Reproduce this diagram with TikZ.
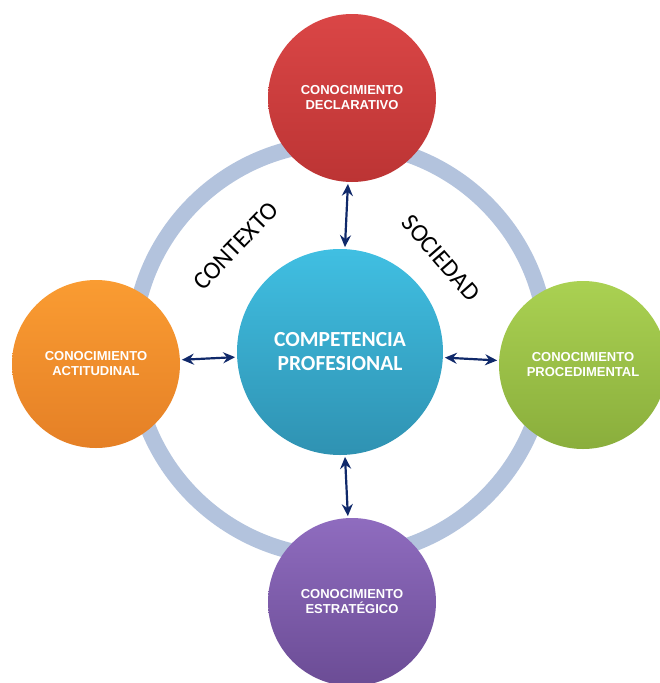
\documentclass[tikz,border=0pt]{standalone}
\usepackage{fontspec}
\setmainfont{Carlito}
\newfontfamily\arialfont{Liberation Sans}
\usepackage{tikz}
\usetikzlibrary{arrows.meta}

\definecolor{ringblue}{HTML}{B3C3DD}
\definecolor{navy}{HTML}{10296A}
\definecolor{redtop}{HTML}{DA4646}
\definecolor{redbot}{HTML}{BC3434}
\definecolor{bluetop}{HTML}{40BFE2}
\definecolor{bluebot}{HTML}{2F92B2}
\definecolor{orangetop}{HTML}{FA9C32}
\definecolor{orangebot}{HTML}{E58026}
\definecolor{greentop}{HTML}{AAD152}
\definecolor{greenbot}{HTML}{8AAE3C}
\definecolor{purpletop}{HTML}{8F6CBF}
\definecolor{purplebot}{HTML}{6B4C95}

\begin{document}
\begin{tikzpicture}[x=1pt,y=-1pt,
    ball/.style={circle,draw=none,inner sep=0pt,outer sep=1pt,minimum size=168pt,
      align=center,text=white,font=\arialfont\bfseries\fontsize{13}{15}\selectfont},
    link/.style={navy,line width=2.2pt,{Stealth[length=12pt,width=11pt,inset=4pt]}-{Stealth[length=12pt,width=11pt,inset=4pt]},shorten <=1pt,shorten >=1pt}]
            \useasboundingbox (0,0) rectangle (660,683);

            % The ring behind everything
            \draw[ringblue,line width=16pt] (340,350) circle (207pt);

            % Place the center node
            \node[ball,minimum size=206pt,top color=bluetop,bottom color=bluebot,
              font=\bfseries\fontsize{21.5}{24}\selectfont] (comp) at (340,352) {COMPETENCIA\\PROFESIONAL};

            % Place the other nodes
            \node[ball,top color=redtop,bottom color=redbot] (decl) at (352,98) {CONOCIMIENTO\\DECLARATIVO};
            \node[ball,top color=orangetop,bottom color=orangebot] (acti) at (96,364) {CONOCIMIENTO\\ACTITUDINAL};
            \node[ball,top color=greentop,bottom color=greenbot] (proc) at (583,365) {CONOCIMIENTO\\PROCEDIMENTAL};
            \node[ball,top color=purpletop,bottom color=purplebot] (estr) at (352,602) {CONOCIMIENTO\\ESTRAT\'EGICO};

            % The words on the ring
            \node[font=\fontsize{25}{28}\selectfont,rotate=46] (ctx) at (236,246) {CONTEXTO};
            \node[font=\fontsize{25}{28}\selectfont,rotate=-49] (soc) at (441,258) {SOCIEDAD};

            % The arrows!
            \draw[link] (decl) -- (comp);
            \draw[link] (acti) -- (comp);
            \draw[link] (proc) -- (comp);
            \draw[link] (estr) -- (comp);
        \end{tikzpicture}
\end{document}
